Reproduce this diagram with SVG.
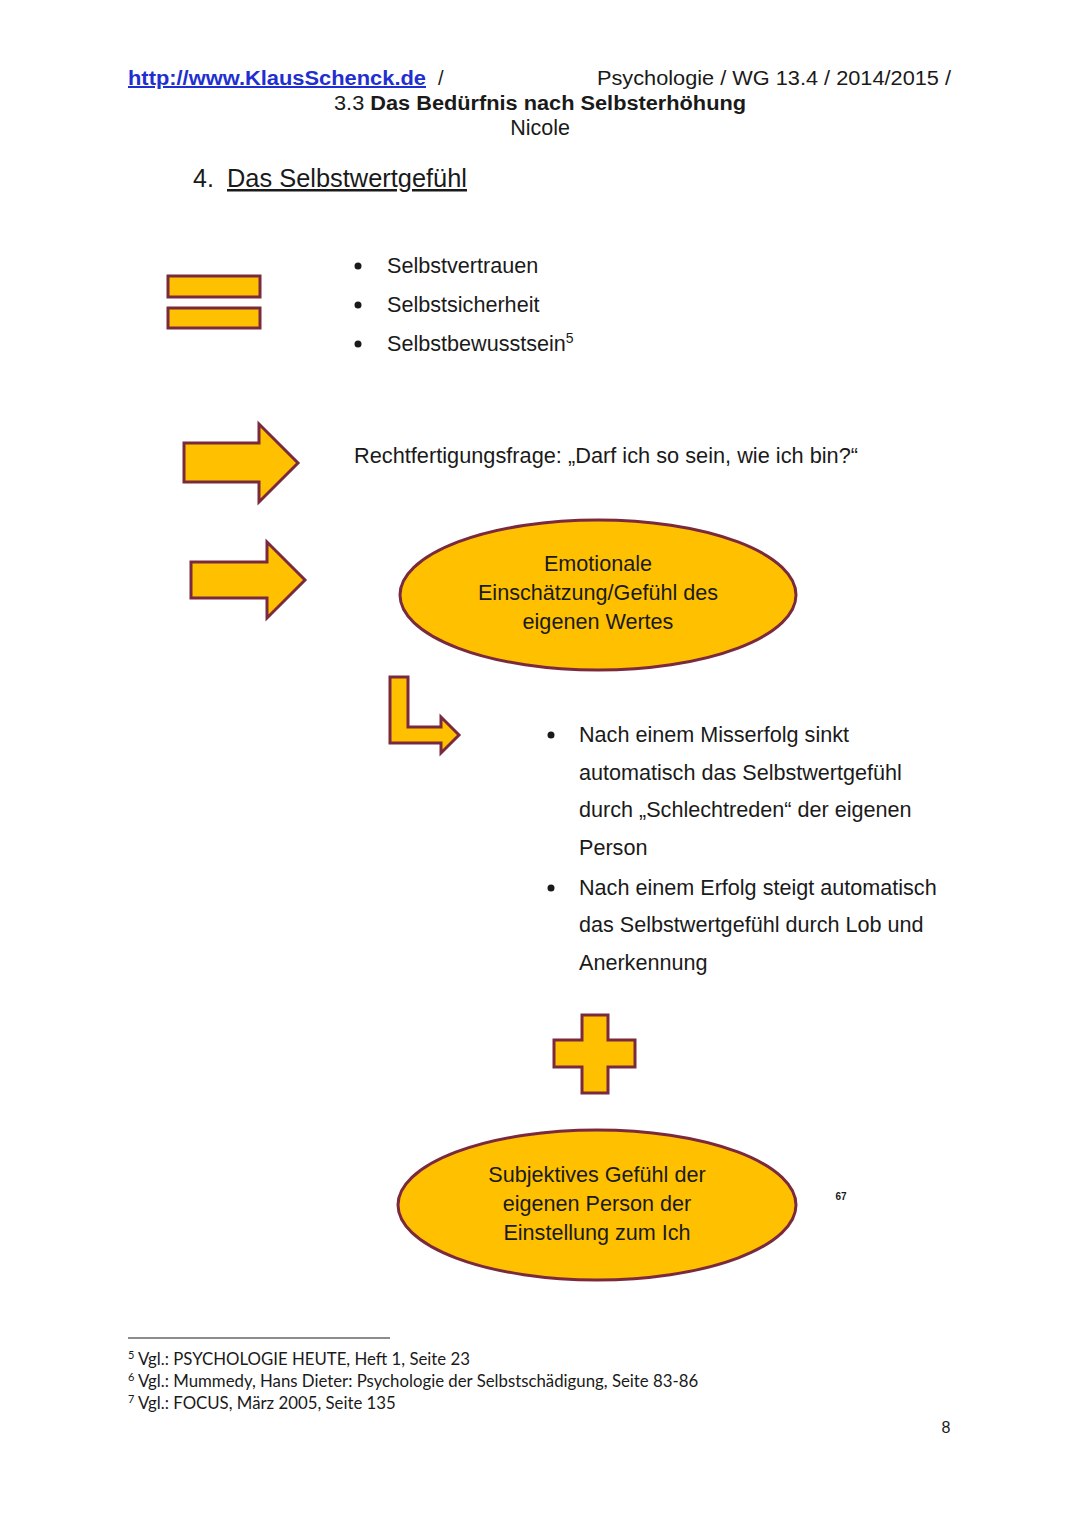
<svg xmlns="http://www.w3.org/2000/svg" width="1080" height="1527" viewBox="0 0 1080 1527">
<defs>
<style>
.t{font-family:"Liberation Sans",Arial,sans-serif;fill:#1a1a1a}
.s{fill:#FFC000;stroke:#7B2A3E;stroke-width:3;stroke-linejoin:miter}
.f{font-family:Lato,"Open Sans","Liberation Sans",sans-serif;fill:#1a1a1a;font-size:16.8px}
</style>
</defs>
<rect width="1080" height="1527" fill="#ffffff"/>
<g id="header">
<text x="128" y="85" font-family="Liberation Sans,Arial,sans-serif" font-size="20" font-weight="bold" fill="#1f2fd0" text-decoration="underline" textLength="298" lengthAdjust="spacingAndGlyphs">http://www.KlausSchenck.de</text>
<text class="t" x="438" y="85" font-size="20">/</text>
<text class="t" x="597" y="85" font-size="20" textLength="354" lengthAdjust="spacingAndGlyphs">Psychologie / WG 13.4 / 2014/2015 /</text>
<text class="t" x="334" y="110" font-size="20" textLength="412" lengthAdjust="spacingAndGlyphs">3.3 <tspan font-weight="bold">Das Bedürfnis nach Selbsterhöhung</tspan></text>
<text class="t" x="540" y="135" font-size="21.5" text-anchor="middle">Nicole</text>
<text class="t" x="193" y="187" font-size="25">4.</text>
<text class="t" x="227" y="187" font-size="25" text-decoration="underline" textLength="240" lengthAdjust="spacingAndGlyphs">Das Selbstwertgefühl</text>
</g>
<g id="equals">
<rect class="s" x="168" y="276" width="92" height="21"/>
<rect class="s" x="168" y="308" width="92" height="20"/>
</g>
<g id="list1" class="t" font-size="21.6">
<circle cx="358" cy="266" r="3.5" fill="#1a1a1a"/>
<circle cx="358" cy="305" r="3.5" fill="#1a1a1a"/>
<circle cx="358" cy="344" r="3.5" fill="#1a1a1a"/>
<text x="387" y="273">Selbstvertrauen</text>
<text x="387" y="312">Selbstsicherheit</text>
<text x="387" y="351">Selbstbewusstsein<tspan font-size="14" dy="-8">5</tspan></text>
</g>
<g id="arrow1">
<path class="s" d="M184,443 L259,443 L259,424 L298,463 L259,502 L259,482 L184,482 Z"/>
</g>
<g id="question">
<text class="t" x="354" y="463" font-size="21.6" textLength="504" lengthAdjust="spacingAndGlyphs">Rechtfertigungsfrage: „Darf ich so sein, wie ich bin?“</text>
</g>
<g id="arrow2">
<path class="s" d="M191,562 L267,562 L267,542 L305,580 L267,618 L267,598 L191,598 Z"/>
</g>
<g id="ellipse1">
<ellipse class="s" cx="598" cy="595" rx="198" ry="75"/>
<text class="t" font-size="21.6" text-anchor="middle"><tspan x="598" y="571">Emotionale</tspan><tspan x="598" y="600">Einschätzung/Gefühl des</tspan><tspan x="598" y="629">eigenen Wertes</tspan></text>
</g>
<g id="lArrow">
<path class="s" d="M390,677 L408,677 L408,727 L441,727 L441,717 L459,735 L441,753 L441,743 L390,743 Z"/>
</g>
<g id="list2" class="t" font-size="21.6">
<circle cx="551" cy="735" r="3.5" fill="#1a1a1a"/>
<circle cx="551" cy="888" r="3.5" fill="#1a1a1a"/>
<text x="579" y="742">Nach einem Misserfolg sinkt</text>
<text x="579" y="780">automatisch das Selbstwertgefühl</text>
<text x="579" y="817">durch „Schlechtreden“ der eigenen</text>
<text x="579" y="855">Person</text>
<text x="579" y="895">Nach einem Erfolg steigt automatisch</text>
<text x="579" y="932">das Selbstwertgefühl durch Lob und</text>
<text x="579" y="970">Anerkennung</text>
</g>
<g id="plus">
<path class="s" d="M582,1015 L608,1015 L608,1040 L635,1040 L635,1067 L608,1067 L608,1093 L582,1093 L582,1067 L554,1067 L554,1040 L582,1040 Z"/>
</g>
<g id="ellipse2">
<ellipse class="s" cx="597" cy="1205" rx="199" ry="75"/>
<text class="t" font-size="21.6" text-anchor="middle"><tspan x="597" y="1182">Subjektives Gefühl der</tspan><tspan x="597" y="1211">eigenen Person der</tspan><tspan x="597" y="1240">Einstellung zum Ich</tspan></text>
</g>
<text class="t" x="841" y="1200" font-size="10" font-weight="bold" text-anchor="middle">67</text>
<g id="footnotes">
<line x1="128" y1="1338" x2="390" y2="1338" stroke="#1a1a1a" stroke-width="1.2"/>
<text class="f" x="128" y="1365"><tspan font-size="11" dy="-6">5</tspan><tspan x="138" dy="6">Vgl.: PSYCHOLOGIE HEUTE, Heft 1, Seite 23</tspan></text>
<text class="f" x="128" y="1387"><tspan font-size="11" dy="-6">6</tspan><tspan x="138" dy="6">Vgl.: Mummedy, Hans Dieter: Psychologie der Selbstschädigung, Seite 83-86</tspan></text>
<text class="f" x="128" y="1409"><tspan font-size="11" dy="-6">7</tspan><tspan x="138" dy="6">Vgl.: FOCUS, März 2005, Seite 135</tspan></text>
</g>
<text class="t" x="946" y="1433" font-size="16" text-anchor="middle">8</text>
</svg>
